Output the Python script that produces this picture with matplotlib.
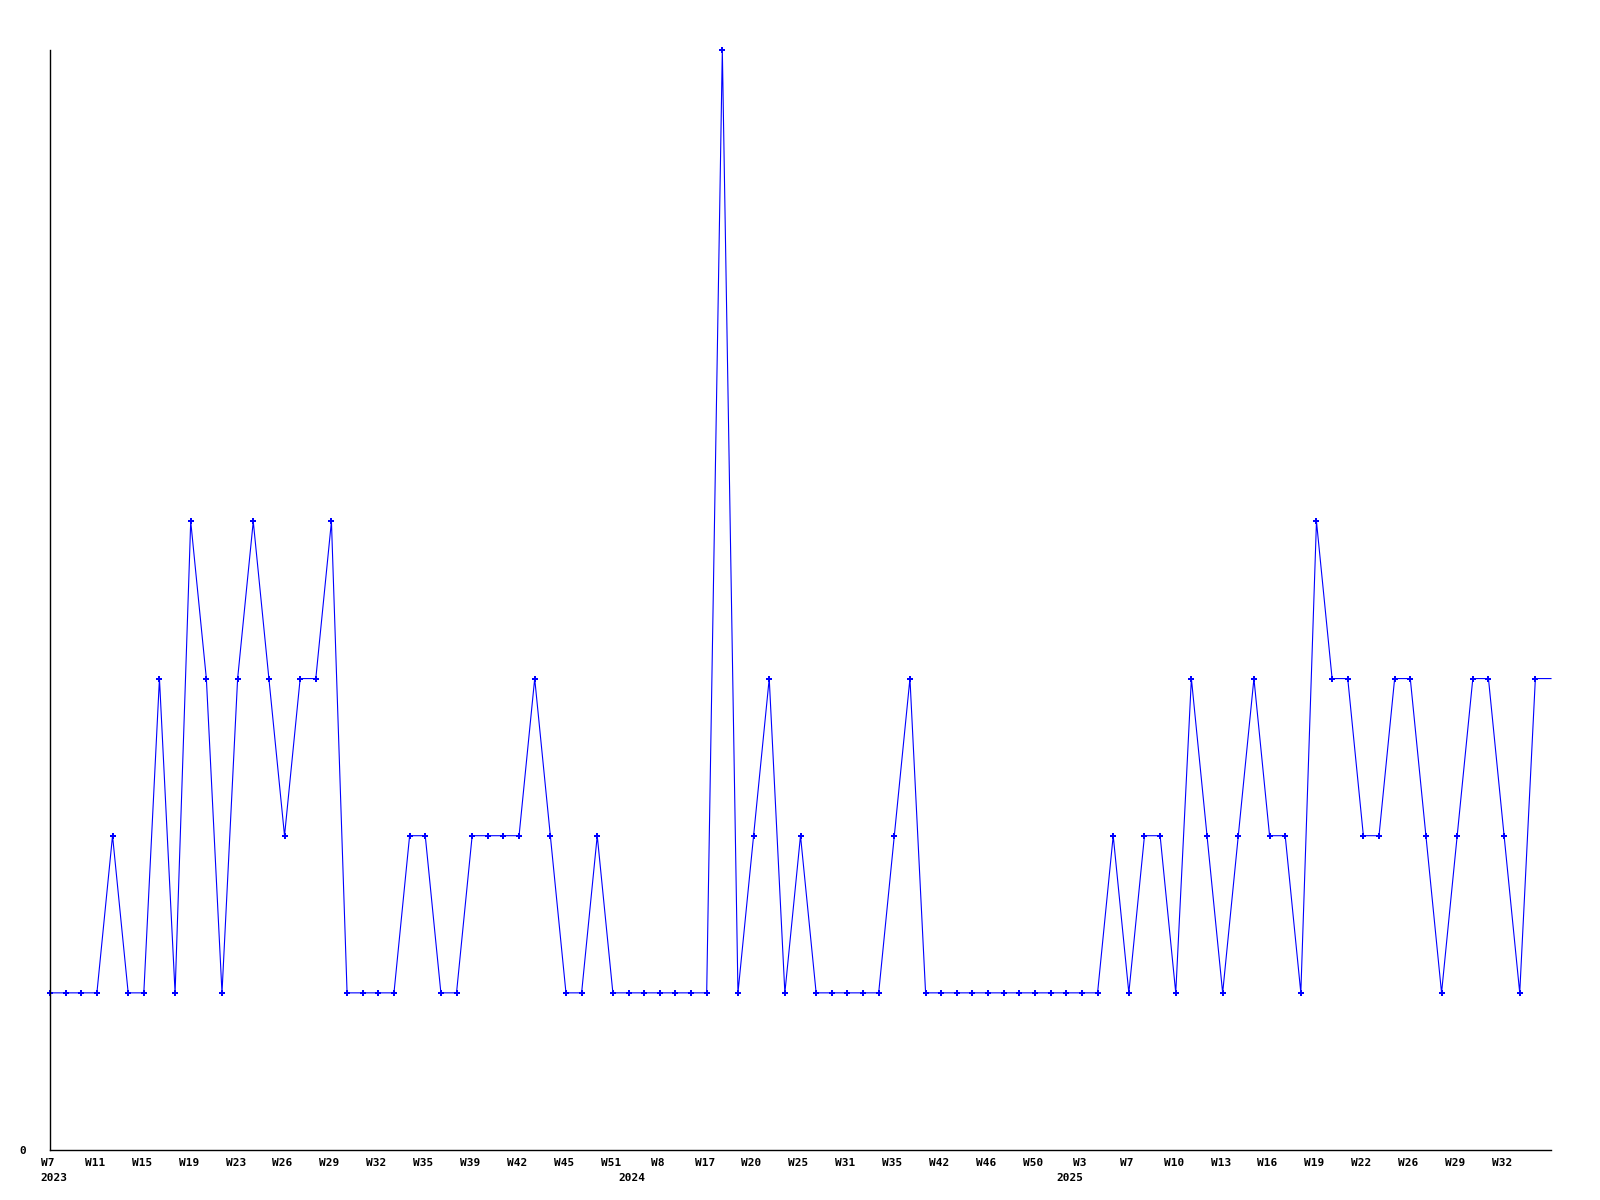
import matplotlib
matplotlib.use("Agg")
import matplotlib.pyplot as plt
from matplotlib.transforms import ScaledTranslation

# weekly counts, one per point (last point has no marker, line runs to the edge)
counts = [1, 1, 1, 1, 2, 1, 1, 3, 1, 4, 3, 1, 3, 4, 3, 2, 3, 3, 4, 1,
          1, 1, 1, 2, 2, 1, 1, 2, 2, 2, 2, 3, 2, 1, 1, 2, 1, 1, 1, 1,
          1, 1, 1, 7, 1, 2, 3, 1, 2, 1, 1, 1, 1, 1, 2, 3, 1, 1, 1, 1,
          1, 1, 1, 1, 1, 1, 1, 1, 2, 1, 2, 2, 1, 3, 2, 1, 2, 3, 2, 2,
          1, 4, 3, 3, 2, 2, 3, 3, 2, 1, 2, 3, 3, 2, 1, 3, 3]

# week labels shown on every third point
week_labels = ["W7", "W11", "W15", "W19", "W23", "W26", "W29", "W32", "W35", "W39",
               "W42", "W45", "W51", "W8", "W17", "W20", "W25", "W31", "W35", "W42",
               "W46", "W50", "W3", "W7", "W10", "W13", "W16", "W19", "W22", "W26",
               "W29", "W32"]
label_step = 3

# year labels and the point index they sit under
years = ["2023", "2024", "2025"]
year_pos = [0, 37, 65]

x = list(range(len(counts)))

fig = plt.figure(figsize=(16, 12), dpi=100)
ax = fig.add_axes([50 / 1600, 50 / 1200, 1501 / 1600, 1100 / 1200])

ax.plot(x, counts, color="#0000ff", lw=0.8, marker="P", ms=4.5, mew=0,
        markevery=list(range(len(counts) - 1)), clip_on=False)

ax.set_xlim(0, len(counts) - 1)
ax.set_ylim(0, max(counts))

for s in ["top", "right"]:
    ax.spines[s].set_visible(False)
for s in ["left", "bottom"]:
    ax.spines[s].set_linewidth(1.0)
    ax.spines[s].set_color("black")

font = dict(family="DejaVu Sans Mono", weight="bold", size=8)

ax.set_xticks(x[::label_step][:len(week_labels)])
ax.set_xticklabels(week_labels, **font)
ax.tick_params(axis="x", length=0, pad=5.5)
# week labels sit a touch left of their points
shift = ScaledTranslation(-2 / 100, 0, fig.dpi_scale_trans)
for lbl in ax.get_xticklabels():
    lbl.set_transform(lbl.get_transform() + shift)

ax.set_yticks([0])
ax.set_yticklabels(["0"], **font)
ax.tick_params(axis="y", length=0, pad=17)

for yr, pos in zip(years, year_pos):
    ax.annotate(yr, xy=(pos, 0), xycoords=("data", "axes fraction"),
                xytext=(2.5, -20.5), textcoords="offset points",
                ha="center", va="center", **font)

fig.savefig("out.png", dpi=100)
